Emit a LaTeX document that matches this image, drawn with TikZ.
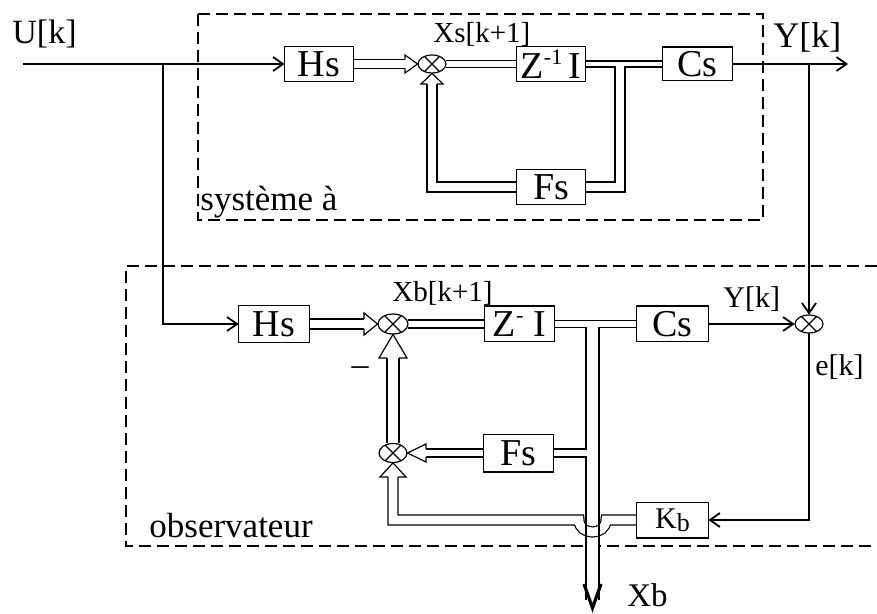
\documentclass[tikz,border=0pt]{standalone}
\usepackage{fontspec}
\setmainfont{Liberation Serif}
\usetikzlibrary{shapes.geometric,arrows.meta}
\newcommand\fsz[1]{\fontsize{#1}{#1}\selectfont}
\newcommand\dblset[1]{%
  \draw[#1=4.5pt] (HsT.east) -- (405,64);
  \draw[#1=3.5pt] (sumT.east) -- (ZT.west);
  \draw[#1=3pt] (ZT.east) -- (CsT.west);
  \draw[#1=5pt] (620,64) -- (620,187) -- (FsT.east);
  \draw[#1=5pt] (FsT.west) -- (432,187) -- (432,84);
  \draw[#1=5pt] (HsB.east) -- (364,324);
  \draw[#1=4pt] (sumB.east) -- (ZB.west);
  \draw[#1=3.5pt] (ZB.east) -- (CsB.west);
  \draw[#1=6.5pt] (592.5,324) -- (592.5,600);
  \draw[#1=4pt] (FsB.east) -- (592.5,453);
  \draw[#1=4pt] (FsB.west) -- (426,453);
  \draw[#1=6pt] (sumL.north) -- (393,358);
}
\newcommand\sumsym[3]{%
  \draw[wire] (#1.center) ellipse [x radius=#2, y radius=#3];
  \draw[wire] (#1.45) -- (#1.225) (#1.135) -- (#1.315);
}
\begin{document}
\begin{tikzpicture}[x=0.5pt,y=-0.5pt,
  blk/.style={inner sep=0pt, font=\fsz{19}},
  sumnode/.style={ellipse, inner sep=0pt},
  wire/.style={line width=0.6pt},
  barb/.style={-{Straight Barb[length=5pt,width=7pt,line width=0.9pt]}},
  dbk/.style={line width=#1+0.6pt},
  dbw/.style={white, line width=#1-0.6pt},
  ahead/.style={draw, fill=white, line width=0.6pt, line join=miter},
  lbl/.style={inner sep=0pt, anchor=base west},
  frame/.style={line width=0.6pt, dash pattern=on 6pt off 3pt}
]
\useasboundingbox (0,0) rectangle (877,614);

% dashed frames
\draw[frame] (198,14) rectangle (763,220);
\draw[frame] (877,266) -- (126,266) -- (126,546) -- (877,546);

% blocks
\node[blk, minimum width=34pt, minimum height=17pt] (HsT) at (319,64) {Hs};
\node[blk, minimum width=34pt, minimum height=17pt] (ZT) at (551,64) {Z\raisebox{7pt}{\fsz{11}-1}\,I};
\node[blk, minimum width=34.5pt, minimum height=16.5pt] (CsT) at (697.5,64) {Cs};
\node[blk, minimum width=34pt, minimum height=17pt] (FsT) at (551,187) {Fs};
\node[blk, minimum width=35pt, minimum height=18pt] (HsB) at (274,324) {Hs};
\node[blk, minimum width=34.5pt, minimum height=17.5pt] (ZB) at (519.5,324) {Z\raisebox{7pt}{\fsz{11}-}\hspace{5pt}I};
\node[blk, minimum width=35.5pt, minimum height=17.5pt] (CsB) at (672.5,324) {Cs};
\node[blk, minimum width=34.5pt, minimum height=18.5pt] (FsB) at (518.5,453) {Fs};
\node[blk, minimum width=35.5pt, minimum height=17.5pt, font=\fsz{15}] (KbB) at (672.5,520) {K\raisebox{-1.5pt}{\fsz{13}b}};

% summing junctions
\node[sumnode, minimum width=14pt, minimum height=9pt] (sumT) at (432,64) {};
\node[sumnode, minimum width=15pt, minimum height=10pt] (sumB) at (393,324) {};
\node[sumnode, minimum width=14pt, minimum height=9pt] (sumR) at (809,324) {};
\node[sumnode, minimum width=14pt, minimum height=9.5pt] (sumL) at (393,453) {};

% double (vector) connections
\dblset{dbk}
\dblset{dbw}
\draw[dbk=5pt] (KbB.west) -- (606,520) .. controls (606,536) and (579,536) .. (579,520) -- (393,520) -- (393,477);
\draw[dbw=5pt] (KbB.west) -- (606,520) .. controls (606,536) and (579,536) .. (579,520) -- (393,520) -- (393,477);
\draw[wire] (586,498) -- (586,545);
\draw[wire] (599,498) -- (599,545);

% hollow arrow heads
\draw[ahead] (405,59.5) -- (405,55) -- (sumT.west) -- (405,73) -- (405,68.5);
\draw[ahead] (427,84) -- (421,84) -- (sumT.south) -- (443,84) -- (437,84);
\draw[ahead] (364,319) -- (364,313) -- (sumB.west) -- (364,335) -- (364,329);
\draw[ahead] (387,358) -- (379,358) -- (sumB.south) -- (407,358) -- (399,358);
\draw[ahead] (426,449) -- (426,444) -- (sumL.east) -- (426,462) -- (426,457);
\draw[ahead] (388,477) -- (380,477) -- (sumL.south) -- (406,477) -- (398,477);
\draw[line width=1.6pt, line join=miter] (584,584) -- (592.5,608) -- (601,584);

% scalar connections
\coordinate (uin) at (23,64);
\coordinate (ubr) at (163,64);
\coordinate (yout) at (848,64);
\coordinate (ybr) at (809,64);
\draw[wire, barb] (uin) -- (HsT.west);
\draw[wire, barb] (ubr) |- (HsB.west);
\draw[wire, barb] (CsT.east) -- (yout);
\draw[wire, barb] (ybr) -- (sumR.north);
\draw[wire, barb] (CsB.east) -- (sumR.west);
\draw[wire, barb] (sumR.south) |- (KbB.east);

% block frames and junction symbols on top
\foreach \n in {HsT,ZT,CsT,FsT,HsB,ZB,CsB,FsB,KbB}
  \draw[wire] (\n.south west) rectangle (\n.north east);
\sumsym{sumT}{7pt}{4.5pt}
\sumsym{sumB}{7.5pt}{5pt}
\sumsym{sumR}{7pt}{4.5pt}
\sumsym{sumL}{7pt}{4.75pt}

% labels
\node[lbl, font=\fsz{17}] (uk) at (12,44) {U[k]};
\node[lbl, font=\fsz{14.5}] (xs) at (433,43) {Xs[k+1]};
\node[lbl, font=\fsz{18}] (yk) at (773,48) {Y[k]};
\node[lbl, font=\fsz{17.5}] (sys) at (200,211) {système à};
\node[lbl, font=\fsz{14.5}] (xbk) at (392,302) {Xb[k+1]};
\node[lbl, font=\fsz{15}] (yk2) at (723,308) {Y[k]};
\node[lbl, font=\fsz{15}] (ek) at (815,375) {e[k]};
\node[lbl, font=\fsz{17.5}] (obs) at (149,537) {observateur};
\node[lbl, font=\fsz{16.5}] (xbo) at (627,606) {Xb};
\node[inner sep=0pt, anchor=base, font=\fsz{17}] (minus) at (360,375) {\textendash};
\end{tikzpicture}
\end{document}
